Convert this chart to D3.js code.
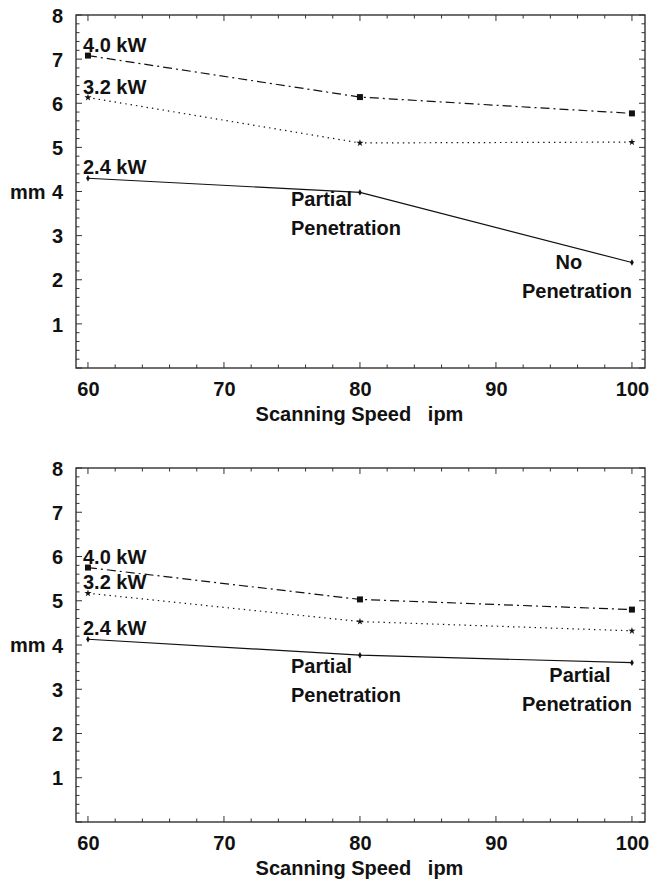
<!DOCTYPE html>
<html>
<head>
<meta charset="utf-8">
<script src="https://cdn.jsdelivr.net/npm/d3@7"></script>
<style>
  html, body { margin: 0; padding: 0; background: #fff; }
  svg { display: block; }
  text { font-family: "Liberation Sans", Arial, Helvetica, sans-serif; font-weight: bold; fill: #111; }
</style>
</head>
<body>
<svg id="chart" width="649" height="882"></svg>
<script>
// ---------------- data ----------------
const speeds = [60, 80, 100];
const seriesLabels = ["4.0 kW", "3.2 kW", "2.4 kW"];

// top panel (mm)
const topPower40 = [7.08, 6.14, 5.77];
const topPower32 = [6.13, 5.10, 5.12];
const topPower24 = [4.30, 3.98, 2.39];

// bottom panel (mm)
const botPower40 = [5.75, 5.03, 4.80];
const botPower32 = [5.17, 4.53, 4.32];
const botPower24 = [4.13, 3.77, 3.60];

const xTickValues = [60, 70, 80, 90, 100];
const xMinorTickValues = d3.range(60, 101, 2);
const yTickValues = [1, 2, 3, 4, 5, 6, 7, 8];
const yMinorTickValues = d3.range(0, 8.001, 0.2).map(v => +v.toFixed(1));

const yLabel = "mm";
const xTitle = "Scanning Speed   ipm";

const topNotes = [
  { lines: ["Partial", "Penetration"], at: 80 },
  { lines: ["No", "Penetration"], at: 100 }
];
const botNotes = [
  { lines: ["Partial", "Penetration"], at: 80 },
  { lines: ["Partial", "Penetration"], at: 100 }
];

// ---------------- layout ----------------
const svg = d3.select("#chart");
const frameLeft = 76, frameRight = 645;
const xDomain = [59.12, 100.96];

const seriesStyles = [
  { dash: "9,4,2,4", symbol: d3.symbolSquare, size: 36 },
  { dash: "1.4,4", symbol: d3.symbolStar, size: 16 },
  { dash: null, symbol: d3.symbolDiamond, size: 12 }
];

function drawPanel(top, bottom, seriesValues, notes, noteLayout) {
  const x = d3.scaleLinear().domain(xDomain).range([frameLeft, frameRight]);
  const y = d3.scaleLinear().domain([0, 8]).range([bottom, top]);
  const g = svg.append("g");

  // frame
  g.append("rect")
    .attr("x", frameLeft).attr("y", top)
    .attr("width", frameRight - frameLeft).attr("height", bottom - top)
    .attr("fill", "none").attr("stroke", "#222").attr("stroke-width", 1.3);

  // inward ticks: bottom/top
  const tickStroke = "#333";
  xMinorTickValues.forEach(v => {
    const major = xTickValues.includes(v);
    const len = major ? 6 : 3.5;
    g.append("line").attr("x1", x(v)).attr("x2", x(v))
      .attr("y1", bottom).attr("y2", bottom - len)
      .attr("stroke", tickStroke).attr("stroke-width", 1);
    g.append("line").attr("x1", x(v)).attr("x2", x(v))
      .attr("y1", top).attr("y2", top + len)
      .attr("stroke", tickStroke).attr("stroke-width", 1);
  });
  yMinorTickValues.forEach(v => {
    const major = Math.abs(v - Math.round(v)) < 1e-6;
    const len = major ? 6 : 3.5;
    g.append("line").attr("x1", frameLeft).attr("x2", frameLeft + len)
      .attr("y1", y(v)).attr("y2", y(v))
      .attr("stroke", tickStroke).attr("stroke-width", 1);
    g.append("line").attr("x1", frameRight).attr("x2", frameRight - len)
      .attr("y1", y(v)).attr("y2", y(v))
      .attr("stroke", tickStroke).attr("stroke-width", 1);
  });

  // tick labels via d3 axes (tick lines hidden)
  const xAxis = d3.axisBottom(x).tickValues(xTickValues).tickSize(0).tickPadding(0).tickFormat(d3.format("d"));
  const xa = g.append("g").attr("transform", `translate(0,${bottom})`).call(xAxis);
  xa.select(".domain").remove();
  xa.selectAll("text").attr("dy", null).attr("y", 28)
    .style("font-size", "20px").style("font-family", "Liberation Sans, Arial, sans-serif")
    .style("font-weight", "bold").attr("fill", "#111");

  const yAxis = d3.axisLeft(y).tickValues(yTickValues).tickSize(0).tickPadding(13).tickFormat(d3.format("d"));
  const ya = g.append("g").attr("transform", `translate(${frameLeft},0)`).call(yAxis);
  ya.select(".domain").remove();
  ya.selectAll("text").attr("dy", "0.36em")
    .style("font-size", "20px").style("font-family", "Liberation Sans, Arial, sans-serif")
    .style("font-weight", "bold").attr("fill", "#111");

  // y label
  g.append("text").attr("x", 10).attr("y", y(4)).attr("dy", "0.36em")
    .style("font-size", "20px").text(yLabel);

  // x title
  g.append("text").attr("x", (frameLeft + frameRight) / 2 - 1).attr("y", bottom + 53)
    .attr("text-anchor", "middle").style("font-size", "20px")
    .style("white-space", "pre").attr("xml:space", "preserve").text(xTitle);

  // lines
  const line = d3.line().x((d, i) => x(speeds[i])).y(d => y(d));
  seriesValues.forEach((vals, si) => {
    const st = seriesStyles[si];
    g.append("path").datum(vals).attr("d", line)
      .attr("fill", "none").attr("stroke", "#111").attr("stroke-width", 1.2)
      .attr("stroke-dasharray", st.dash);
    g.selectAll(null).data(vals).enter().append("path")
      .attr("transform", (d, i) => `translate(${x(speeds[i])},${y(d)})`)
      .attr("d", d3.symbol().type(st.symbol).size(st.size))
      .attr("fill", "#111");
    // series label
    g.append("text").attr("x", x(speeds[0]) - 5).attr("y", y(vals[0]) - 4)
      .style("font-size", "20px").text(seriesLabels[si]);
  });

  // annotations
  notes.forEach((n, ni) => {
    const lay = noteLayout[ni];
    const anchorV = seriesValues[2][speeds.indexOf(n.at)];
    n.lines.forEach((t, li) => {
      g.append("text")
        .attr("x", x(n.at) + lay.dx[li])
        .attr("y", y(anchorV) + lay.dy + li * 29)
        .attr("text-anchor", lay.anchor)
        .style("font-size", "20px").text(t);
    });
  });
}

drawPanel(15, 368, [topPower40, topPower32, topPower24], topNotes, [
  { dx: [-69, -69], dy: 14, anchor: "start" },
  { dx: [-63, -55], dy: 6, anchor: "middle" }
]);
drawPanel(468, 822, [botPower40, botPower32, botPower24], botNotes, [
  { dx: [-69, -69], dy: 18, anchor: "start" },
  { dx: [-52, -55], dy: 19, anchor: "middle" }
]);
</script>
</body>
</html>
